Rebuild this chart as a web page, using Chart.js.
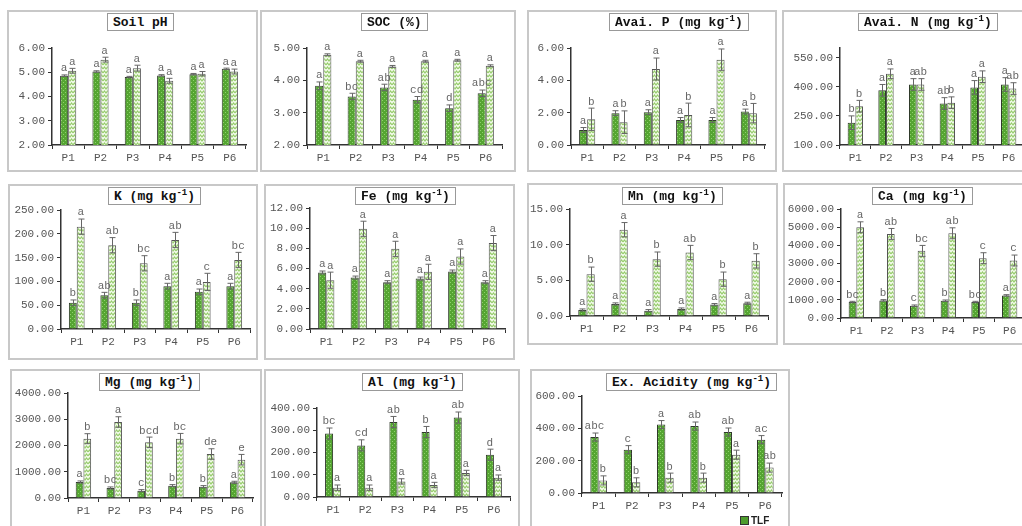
<!DOCTYPE html>
<html>
<head>
<meta charset="utf-8">
<script src="https://cdn.jsdelivr.net/npm/chart.js@4"></script>
<style>
body { margin: 0; background: #fff; width: 1022px; height: 526px; overflow: hidden; position: relative; }
.frame { position: absolute; border: 2px solid #c8c8c8; box-sizing: border-box; }
.ttl { position: absolute; border: 1px solid #999; font: bold 13px "Liberation Mono", monospace; padding: 0 5px;
       height: 16px; line-height: 17px; white-space: pre; background: #fff; color: #111; z-index: 2; }
.ttl sup { font-size: 9px; line-height: 0; vertical-align: 5px; }
canvas { position: absolute; z-index: 1; }
.legend { position: absolute; left: 740px; top: 515px; font: bold 10px "Liberation Sans", sans-serif; color: #222; z-index: 2; }
.legend i { display: inline-block; width: 7px; height: 7px; border: 1px solid #333; background: #4e9c2d; margin-right: 2px; vertical-align: -1px; }
.preload { position: absolute; left: -200px; top: 0; font: 11px "Liberation Mono"; }
</style>
</head>
<body>
<div class="preload">P1 0.00 abc</div>
<div class="legend"><i></i>TLF</div>
<script>
var categories = ['P1', 'P2', 'P3', 'P4', 'P5', 'P6'];

// Soil pH
var phTLF = [4.86, 5.03, 4.80, 4.87, 4.92, 5.14];
var phOther = [5.06, 5.52, 5.17, 4.65, 4.94, 5.03];
var phTLFErr = [0.03, 0.03, 0.03, 0.03, 0.03, 0.03];
var phOtherErr = [0.10, 0.10, 0.12, 0.10, 0.09, 0.10];
var phTLFLetters = ['a', 'a', 'a', 'a', 'a', 'a'];
var phOtherLetters = ['a', 'a', 'a', 'a', 'a', 'a'];
var phTicks = [2, 3, 4, 5, 6];

// SOC
var socTLF = [3.83, 3.50, 3.78, 3.40, 3.14, 3.60];
var socOther = [4.79, 4.59, 4.43, 4.59, 4.62, 4.45];
var socTLFErr = [0.12, 0.10, 0.10, 0.10, 0.10, 0.10];
var socOtherErr = [0.03, 0.03, 0.03, 0.03, 0.03, 0.03];
var socTLFLetters = ['a', 'bc', 'ab', 'cd', 'd', 'abc'];
var socOtherLetters = ['a', 'a', 'a', 'a', 'a', 'a'];
var socTicks = [2, 2.5, 3, 3.5, 4, 4.5, 5];

// Avai. P
var pTLF = [0.93, 1.97, 2.03, 1.55, 1.55, 2.07];
var pOther = [1.59, 1.41, 4.70, 1.86, 5.28, 1.97];
var pTLFErr = [0.15, 0.15, 0.15, 0.15, 0.15, 0.15];
var pOtherErr = [0.69, 0.70, 0.68, 0.73, 0.66, 0.60];
var pTLFLetters = ['a', 'a', 'a', 'a', 'a', 'a'];
var pOtherLetters = ['b', 'b', 'a', 'b', 'a', 'b'];
var pTicks = [0, 1, 2, 3, 4, 5, 6];

// Avai. N
var nTLF = [215, 382, 412, 314, 397, 412];
var nOther = [300, 467, 412, 318, 452, 391];
var nTLFErr = [35, 30, 30, 30, 35, 35];
var nOtherErr = [30, 25, 30, 30, 30, 30];
var nTLFLetters = ['b', 'a', 'a', 'ab', 'a', 'a'];
var nOtherLetters = ['b', 'a', 'ab', 'b', 'a', 'ab'];
var nTicks = [100, 250, 400, 550];

// K
var kTLF = [55, 71, 55, 90, 78, 90];
var kOther = [215, 176, 138, 187, 99, 145];
var kTLFErr = [6, 6, 6, 6, 6, 6];
var kOtherErr = [16, 16, 16, 16, 18, 16];
var kTLFLetters = ['b', 'ab', 'b', 'a', 'a', 'a'];
var kOtherLetters = ['a', 'ab', 'bc', 'ab', 'c', 'bc'];
var kTicks = [0, 50, 100, 150, 200, 250];

// Fe
var feTLF = [5.60, 5.10, 4.64, 5.00, 5.70, 4.64];
var feOther = [4.84, 9.94, 7.95, 5.67, 7.19, 8.52];
var feTLFErr = [0.15, 0.15, 0.15, 0.15, 0.15, 0.15];
var feOtherErr = [0.80, 0.75, 0.75, 0.75, 0.75, 0.75];
var feTLFLetters = ['a', 'a', 'a', 'a', 'a', 'a'];
var feOtherLetters = ['a', 'a', 'a', 'a', 'a', 'a'];
var feTicks = [0, 2, 4, 6, 8, 10, 12];

// Mn
var mnTLF = [0.84, 1.69, 0.75, 0.98, 1.60, 1.78];
var mnOther = [5.86, 12.10, 7.97, 8.90, 5.16, 7.73];
var mnTLFErr = [0.15, 0.15, 0.15, 0.15, 0.15, 0.15];
var mnOtherErr = [1.0, 1.0, 1.0, 1.0, 1.0, 1.0];
var mnTLFLetters = ['a', 'a', 'a', 'a', 'a', 'a'];
var mnOtherLetters = ['b', 'a', 'b', 'ab', 'b', 'b'];
var mnTicks = [0, 5, 10, 15];

// Ca
var caTLF = [878, 970, 677, 951, 878, 1244];
var caOther = [4994, 4628, 3695, 4664, 3293, 3165];
var caTLFErr = [40, 40, 40, 40, 40, 40];
var caOtherErr = [300, 300, 300, 300, 300, 300];
var caTLFLetters = ['bc', 'b', 'c', 'b', 'bc', 'a'];
var caOtherLetters = ['a', 'ab', 'bc', 'ab', 'c', 'c'];
var caTicks = [0, 1000, 2000, 3000, 4000, 5000, 6000];

// Mg
var mgTLF = [610, 381, 279, 470, 432, 597];
var mgOther = [2260, 2895, 2120, 2260, 1676, 1460];
var mgTLFErr = [40, 40, 40, 40, 40, 40];
var mgOtherErr = [190, 200, 200, 200, 200, 200];
var mgTLFLetters = ['a', 'bc', 'c', 'b', 'b', 'a'];
var mgOtherLetters = ['b', 'a', 'bcd', 'bc', 'de', 'e'];
var mgTicks = [0, 1000, 2000, 3000, 4000];

// Al
var alTLF = [285, 232, 337, 292, 357, 190];
var alOther = [42, 42, 70, 54, 108, 87];
var alTLFErr = [25, 25, 25, 25, 25, 25];
var alOtherErr = [12, 12, 12, 12, 12, 12];
var alTLFLetters = ['bc', 'cd', 'ab', 'b', 'ab', 'd'];
var alOtherLetters = ['a', 'a', 'a', 'a', 'a', 'a'];
var alTicks = [0, 100, 200, 300, 400];

// Ex. Acidity
var eaTLF = [346, 268, 423, 414, 377, 330];
var eaOther = [78, 66, 95, 95, 237, 157];
var eaTLFErr = [25, 25, 25, 25, 25, 25];
var eaOtherErr = [28, 28, 28, 28, 28, 28];
var eaTLFLetters = ['abc', 'c', 'a', 'ab', 'ab', 'ac'];
var eaOtherLetters = ['b', 'b', 'b', 'b', 'a', 'ab'];
var eaTicks = [0, 200, 400, 600];

// panel list: data refs + where each panel sits on the page
var panels = [
  { title: 'Soil pH', tlf: phTLF, other: phOther, tlfErr: phTLFErr, otherErr: phOtherErr, tlfLet: phTLFLetters, otherLet: phOtherLetters, ticks: phTicks, max: 6,
    frame: [7, 10, 251, 162], axis: [52, 48, 145, 246], tpos: [107, 13] },
  { title: 'SOC (%)', tlf: socTLF, other: socOther, tlfErr: socTLFErr, otherErr: socOtherErr, tlfLet: socTLFLetters, otherLet: socOtherLetters, ticks: socTicks, max: 5,
    frame: [260, 10, 256, 162], axis: [307, 48, 145, 502], tpos: [361, 13] },
  { title: 'Avai. P (mg kg<sup>-1</sup>)', tlf: pTLF, other: pOther, tlfErr: pTLFErr, otherErr: pOtherErr, tlfLet: pTLFLetters, otherLet: pOtherLetters, ticks: pTicks, max: 6,
    frame: [527, 10, 250, 162], axis: [571, 48, 145, 765], tpos: [609, 13] },
  { title: 'Avai. N (mg kg<sup>-1</sup>)', tlf: nTLF, other: nOther, tlfErr: nTLFErr, otherErr: nOtherErr, tlfLet: nTLFLetters, otherLet: nOtherLetters, ticks: nTicks, max: 600,
    frame: [782, 10, 260, 162], axis: [840, 48, 145, 1024], tpos: [858, 13] },
  { title: 'K (mg kg<sup>-1</sup>)', tlf: kTLF, other: kOther, tlfErr: kTLFErr, otherErr: kOtherErr, tlfLet: kTLFLetters, otherLet: kOtherLetters, ticks: kTicks, max: 250,
    frame: [8, 184, 250, 176], axis: [61, 210, 329, 250], tpos: [108, 187] },
  { title: 'Fe (mg kg<sup>-1</sup>)', tlf: feTLF, other: feOther, tlfErr: feTLFErr, otherErr: feOtherErr, tlfLet: feTLFLetters, otherLet: feOtherLetters, ticks: feTicks, max: 12,
    frame: [264, 184, 251, 176], axis: [310, 208, 329, 505], tpos: [355, 187] },
  { title: 'Mn (mg kg<sup>-1</sup>)', tlf: mnTLF, other: mnOther, tlfErr: mnTLFErr, otherErr: mnOtherErr, tlfLet: mnTLFLetters, otherLet: mnOtherLetters, ticks: mnTicks, max: 15,
    frame: [527, 183, 251, 162], axis: [570, 209, 316, 768], tpos: [622, 187] },
  { title: 'Ca (mg kg<sup>-1</sup>)', tlf: caTLF, other: caOther, tlfErr: caTLFErr, otherErr: caOtherErr, tlfLet: caTLFLetters, otherLet: caOtherLetters, ticks: caTicks, max: 6000,
    frame: [783, 183, 260, 162], axis: [841, 209, 318, 1025], tpos: [872, 187] },
  { title: 'Mg (mg kg<sup>-1</sup>)', tlf: mgTLF, other: mgOther, tlfErr: mgTLFErr, otherErr: mgOtherErr, tlfLet: mgTLFLetters, otherLet: mgOtherLetters, ticks: mgTicks, max: 4000,
    frame: [10, 369, 252, 200], axis: [68, 393, 498, 253], tpos: [99, 373] },
  { title: 'Al (mg kg<sup>-1</sup>)', tlf: alTLF, other: alOther, tlfErr: alTLFErr, otherErr: alOtherErr, tlfLet: alTLFLetters, otherLet: alOtherLetters, ticks: alTicks, max: 400,
    frame: [264, 369, 256, 200], axis: [317, 408, 497, 510], tpos: [362, 373] },
  { title: 'Ex. Acidity (mg kg<sup>-1</sup>)', tlf: eaTLF, other: eaOther, tlfErr: eaTLFErr, otherErr: eaOtherErr, tlfLet: eaTLFLetters, otherLet: eaOtherLetters, ticks: eaTicks, max: 600,
    frame: [530, 369, 260, 200], axis: [582, 396, 493, 782], tpos: [606, 373] }
];

var monoFamily = '"Liberation Mono", "Courier New", monospace';

function makePattern(kind) {
  var c = document.createElement('canvas');
  var g = c.getContext('2d');
  if (kind === 'dark') {
    c.width = 4; c.height = 4;
    g.fillStyle = '#55a532'; g.fillRect(0, 0, 4, 4);
    g.fillStyle = '#8fd16c'; g.fillRect(0, 0, 1, 1); g.fillRect(2, 2, 1, 1);
  } else {
    c.width = 6; c.height = 4;
    g.fillStyle = '#f2faea'; g.fillRect(0, 0, 6, 4);
    g.strokeStyle = '#96cc6c'; g.lineWidth = 1.2;
    g.beginPath(); g.moveTo(0, 3); g.lineTo(1.5, 1); g.lineTo(3, 3); g.lineTo(4.5, 1); g.lineTo(6, 3); g.stroke();
  }
  return g.createPattern(c, 'repeat');
}
var darkFill = makePattern('dark');
var lightFill = makePattern('light');

// error bars + significance letters
var errorBars = {
  id: 'errorBars',
  afterDatasetsDraw: function(chart) {
    var ctx = chart.ctx, y = chart.scales.y;
    chart.data.datasets.forEach(function(ds, di) {
      chart.getDatasetMeta(di).data.forEach(function(bar, i) {
        var v = ds.data[i], e = ds.errors[i];
        var yt = y.getPixelForValue(v + e), yb = y.getPixelForValue(v - e);
        var x = Math.round(bar.x) + 0.5;
        ctx.save();
        ctx.strokeStyle = '#666'; ctx.lineWidth = 1;
        ctx.beginPath();
        ctx.moveTo(x, yt); ctx.lineTo(x, yb);
        ctx.moveTo(x - 3, yt); ctx.lineTo(x + 3, yt);
        ctx.moveTo(x - 3, yb); ctx.lineTo(x + 3, yb);
        ctx.stroke();
        ctx.fillStyle = '#666';
        ctx.font = '11px ' + monoFamily;
        ctx.textAlign = 'center'; ctx.textBaseline = 'bottom';
        ctx.fillText(ds.letters[i], bar.x, yt - 1);
        ctx.restore();
      });
    });
  }
};

var charts = [];

panels.forEach(function(p) {
  var f = p.frame, a = p.axis;
  var fr = document.createElement('div');
  fr.className = 'frame';
  fr.style.left = f[0] + 'px'; fr.style.top = f[1] + 'px';
  fr.style.width = f[2] + 'px'; fr.style.height = f[3] + 'px';
  document.body.appendChild(fr);

  var t = document.createElement('div');
  t.className = 'ttl';
  t.innerHTML = p.title;
  t.style.left = p.tpos[0] + 'px'; t.style.top = p.tpos[1] + 'px';
  document.body.appendChild(t);

  var cv = document.createElement('canvas');
  var w = a[3] + 6 - f[0], h = a[2] + 28 - f[1];
  cv.width = w; cv.height = h;
  cv.style.left = f[0] + 'px'; cv.style.top = f[1] + 'px';
  cv.style.width = w + 'px'; cv.style.height = h + 'px';
  document.body.appendChild(cv);

  var tickFont = { family: monoFamily, size: 11 };
  charts.push(new Chart(cv, {
    type: 'bar',
    data: {
      labels: categories,
      datasets: [
        { label: 'TLF', data: p.tlf, errors: p.tlfErr, letters: p.tlfLet,
          backgroundColor: darkFill, borderColor: '#2f3a2a', borderWidth: 1 },
        { label: 'Other', data: p.other, errors: p.otherErr, letters: p.otherLet,
          backgroundColor: lightFill, borderColor: '#555', borderWidth: 1 }
      ]
    },
    options: {
      responsive: false,
      animation: false,
      layout: { padding: { left: 0, top: a[1] - f[1], right: 6, bottom: 0 } },
      categoryPercentage: 0.5,
      barPercentage: 1.0,
      plugins: { legend: { display: false }, tooltip: { enabled: false } },
      scales: {
        x: {
          grid: { offset: true, drawOnChartArea: false, drawTicks: true, tickLength: 4, color: '#333' },
          border: { display: true, color: '#333', width: 1.5 },
          ticks: { font: tickFont, color: '#555', padding: 2, autoSkip: false, maxRotation: 0 },
          afterFit: function(s) { s.height = 28; }
        },
        y: {
          min: p.ticks[0],
          max: p.max,
          grid: { drawOnChartArea: false, drawTicks: true, tickLength: 4, color: '#333' },
          border: { display: true, color: '#333', width: 1.5 },
          ticks: { font: tickFont, color: '#555', padding: 3,
                   callback: function(v) { return Number(v).toFixed(2); } },
          afterBuildTicks: function(s) { s.ticks = p.ticks.map(function(v) { return { value: v }; }); },
          afterFit: function(s) { s.width = a[0] - f[0]; }
        }
      }
    },
    plugins: [errorBars]
  }));
});

// redraw once the mono font is ready so canvas text uses it
if (document.fonts) {
  Promise.all([
    document.fonts.load('11px "Liberation Mono"'),
    document.fonts.load('bold 13px "Liberation Mono"')
  ]).then(function() {
    charts.forEach(function(c) { c.update('none'); });
  });
}
</script>
</body>
</html>
